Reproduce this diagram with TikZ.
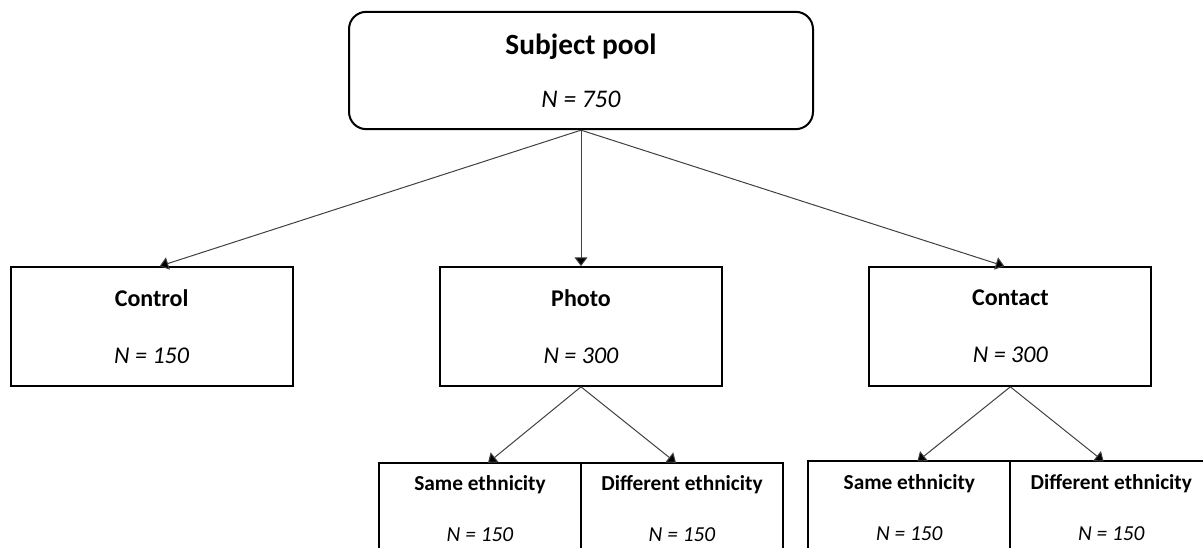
\documentclass[tikz,border=0pt]{standalone}
\usepackage{fontspec}
\setmainfont{Carlito}
\usepackage{tikz}
\usetikzlibrary{positioning}
\usetikzlibrary{arrows.meta}

\begin{document}
\begin{tikzpicture}[x=0.75pt, y=-0.75pt,
		poolbox/.style={draw, line width=1.5pt, rounded corners=13pt, align=center, minimum width=348pt, minimum height=88pt, inner sep=0pt},
		armbox/.style={draw, line width=1.5pt, align=center, minimum width=211.5pt, minimum height=89pt, inner sep=0pt, font=\fontsize{18}{20}\selectfont},
		subbox/.style={draw, line width=1.5pt, align=center, minimum width=151.5pt, minimum height=69pt, inner sep=0pt, outer sep=0pt, font=\fontsize{16}{18}\selectfont},
		link/.style={draw=black!75, line width=0.75pt, -{Triangle[width=9.5pt, length=6.5pt, fill=black]}}]
		\useasboundingbox (0,0) rectangle (1203,548);
		\clip (0,0) rectangle (1203,548);
		\node [poolbox] at (581,70.5) (pool) {\fontsize{22}{22}\selectfont\textbf{Subject pool}\\[23pt]\fontsize{19}{19}\selectfont\textit{N = 750}};
		\node [armbox, below=102pt of pool] (photo) {\textbf{Photo}\\[23pt]\textit{N = 300}};
		\node [armbox, left=109pt of photo] (control) {\textbf{Control}\\[23pt]\textit{N = 150}};
		\node [armbox, right=109pt of photo] (contact) {\textbf{Contact}\\[23pt]\textit{N = 300}};
		\draw [link] (pool.south) -- ([xshift=6pt]control.north);
		\draw [link] (pool.south) -- (photo.north);
		\draw [link] (pool.south) -- ([xshift=-4.5pt]contact.north);
		
		% split of the two treatment arms
		\node [subbox, below left=57pt and 0pt of photo.south] (samephoto) {\textbf{Same ethnicity}\\[20pt]\textit{N = 150}};
		\node [subbox, below right=57pt and 0pt of photo.south] (diffphoto) {\textbf{Different ethnicity}\\[20pt]\textit{N = 150}};
		\node [subbox, below left=56pt and 0pt of contact.south] (samecontact) {\textbf{Same ethnicity}\\[20pt]\textit{N = 150}};
		\node [subbox, below right=56pt and 0pt of contact.south, minimum width=160pt] (diffcontact) {\textbf{Different ethnicity}\hspace*{8.5pt}\\[20pt]\textit{N = 150}\hspace*{8.5pt}};
		\draw [link] (photo.south) -- ([xshift=6pt]samephoto.north);
		\draw [link] (photo.south) -- ([xshift=-4.5pt]diffphoto.north);
		\draw [link] (contact.south) -- ([xshift=6pt]samecontact.north);
		\draw [link] (contact.south) -- ([xshift=-10pt]diffcontact.north);
\end{tikzpicture}
\end{document}
